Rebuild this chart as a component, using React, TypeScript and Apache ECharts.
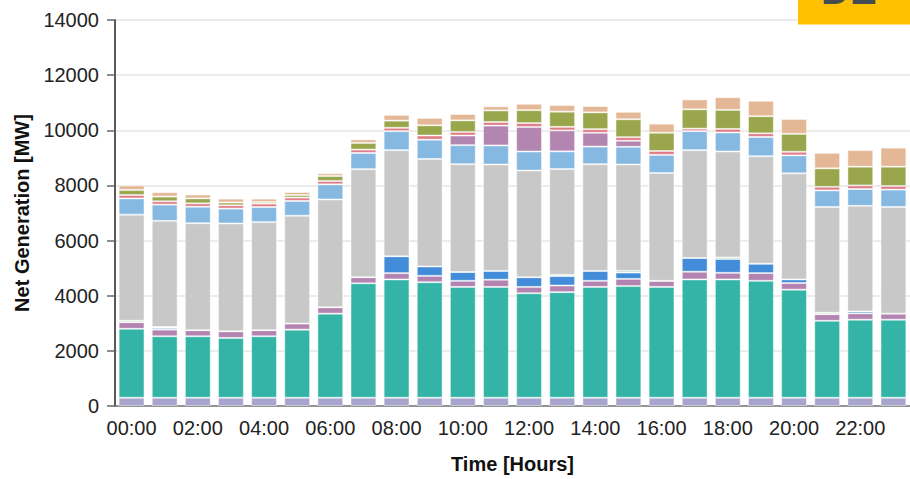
import React, { useEffect, useRef } from "react";
import * as echarts from "echarts";

const hours = [
  "00:00", "01:00", "02:00", "03:00", "04:00", "05:00", "06:00", "07:00",
  "08:00", "09:00", "10:00", "11:00", "12:00", "13:00", "14:00", "15:00",
  "16:00", "17:00", "18:00", "19:00", "20:00", "21:00", "22:00", "23:00",
];

const other = [300, 300, 300, 300, 300, 300, 300, 300, 300, 300, 300, 300, 300, 300, 300, 300, 300, 300, 300, 300, 300, 300, 300, 300];
const wind = [2500, 2230, 2230, 2170, 2230, 2470, 3050, 4150, 4290, 4190, 4020, 4020, 3790, 3830, 4020, 4050, 4020, 4290, 4290, 4240, 3920, 2790, 2830, 2830];
const biomass = [240, 240, 220, 240, 220, 220, 230, 220, 230, 230, 220, 260, 230, 240, 220, 260, 220, 280, 240, 280, 240, 240, 230, 220];
const gas = [0, 60, 0, 0, 0, 0, 0, 0, 610, 340, 320, 320, 350, 340, 360, 230, 0, 500, 500, 340, 130, 0, 70, 0];
const oil = [50, 35, 0, 0, 0, 0, 0, 0, 0, 0, 0, 0, 0, 45, 0, 60, 0, 0, 60, 0, 0, 50, 0, 0];
const lignite = [3850, 3850, 3880, 3910, 3920, 3910, 3910, 3920, 3850, 3900, 3910, 3860, 3870, 3840, 3870, 3860, 3910, 3910, 3840, 3900, 3850, 3840, 3830, 3870];
const hydro = [590, 590, 600, 540, 550, 540, 550, 590, 690, 700, 690, 690, 690, 640, 640, 640, 660, 690, 690, 700, 650, 600, 610, 630];
const pumped = [0, 0, 0, 0, 0, 0, 0, 0, 0, 0, 350, 720, 890, 760, 500, 220, 0, 0, 0, 0, 0, 0, 0, 0];
const waste = [120, 120, 120, 120, 120, 120, 120, 120, 120, 150, 130, 130, 140, 130, 130, 130, 140, 90, 130, 130, 130, 130, 130, 130];
const hardCoal = [180, 170, 180, 100, 60, 90, 180, 240, 260, 370, 420, 420, 470, 550, 610, 650, 660, 700, 690, 620, 650, 670, 680, 700];
const nuclear = [170, 160, 140, 140, 120, 110, 100, 130, 210, 270, 230, 150, 230, 240, 230, 270, 330, 360, 460, 560, 540, 560, 600, 690];

const seriesDefs = [
  { name: "Other", data: other, color: "#a7a4cd" },
  { name: "Wind", data: wind, color: "#33b4a6" },
  { name: "Biomass", data: biomass, color: "#b384b1" },
  { name: "Gas", data: gas, color: "#428cd9" },
  { name: "Oil", data: oil, color: "#62b97a" },
  { name: "Lignite", data: lignite, color: "#c8c8c8" },
  { name: "Hydro", data: hydro, color: "#86b9e1" },
  { name: "Pumped Storage", data: pumped, color: "#b386b2" },
  { name: "Waste", data: waste, color: "#e07a85" },
  { name: "Hard Coal", data: hardCoal, color: "#9aa64c" },
  { name: "Nuclear", data: nuclear, color: "#e4b897" },
];

export default function App() {
  const ref = useRef<HTMLDivElement>(null);

  useEffect(() => {
    document.body.style.margin = "0";
    if (!ref.current) return;
    const chart = echarts.init(ref.current, undefined, { renderer: "svg" });
    const font = "'Liberation Sans', Arial, sans-serif";
    chart.setOption({
      animation: false,
      grid: { left: 115, top: 20, width: 800, height: 387.7 },
      xAxis: {
        type: "category",
        data: hours,
        name: "Time [Hours]",
        nameLocation: "middle",
        nameGap: 48,
        nameTextStyle: { fontFamily: font, fontSize: 20, fontWeight: "bold", color: "#111" },
        axisLine: { lineStyle: { color: "#777", width: 1.5 } },
        axisTick: { alignWithLabel: true, interval: 1, length: 6, lineStyle: { color: "#333", width: 1.5 } },
        axisLabel: { interval: 1, margin: 12, fontFamily: font, fontSize: 20, color: "#222" },
      },
      yAxis: {
        type: "value",
        min: 0,
        max: 14000,
        interval: 2000,
        name: "Net Generation [MW]",
        nameLocation: "middle",
        nameGap: 80,
        nameTextStyle: { fontFamily: font, fontSize: 20, fontWeight: "bold", color: "#111" },
        axisLine: { show: true, lineStyle: { color: "#222", width: 1.5 } },
        axisTick: { show: true, length: 8, lineStyle: { color: "#666", width: 1.5 } },
        axisLabel: { margin: 16, fontFamily: font, fontSize: 20, color: "#222", formatter: (v: number) => String(v) },
        splitLine: { lineStyle: { color: "#e6e6e6", width: 1.5 } },
      },
      series: seriesDefs.map((s) => ({
        name: s.name,
        type: "bar",
        stack: "total",
        data: s.data,
        barCategoryGap: "22%",
        itemStyle: { color: s.color, borderColor: "rgba(255,255,255,0.45)", borderWidth: 1 },
      })),
      graphic: [
        {
          type: "rect",
          shape: { x: 798, y: 0, width: 112, height: 24.5 },
          style: { fill: "#ffc000" },
          z: 100,
        },
        {
          type: "text",
          x: 821,
          y: -30,
          style: {
            text: "DE",
            fontFamily: font,
            fontSize: 40,
            fontWeight: "bold",
            fill: "#434c52",
            verticalAlign: "top",
            align: "left",
          },
          z: 101,
        },
      ],
    });
    return () => chart.dispose();
  }, []);

  return <div ref={ref} style={{ width: 910, height: 479 }} />;
}
